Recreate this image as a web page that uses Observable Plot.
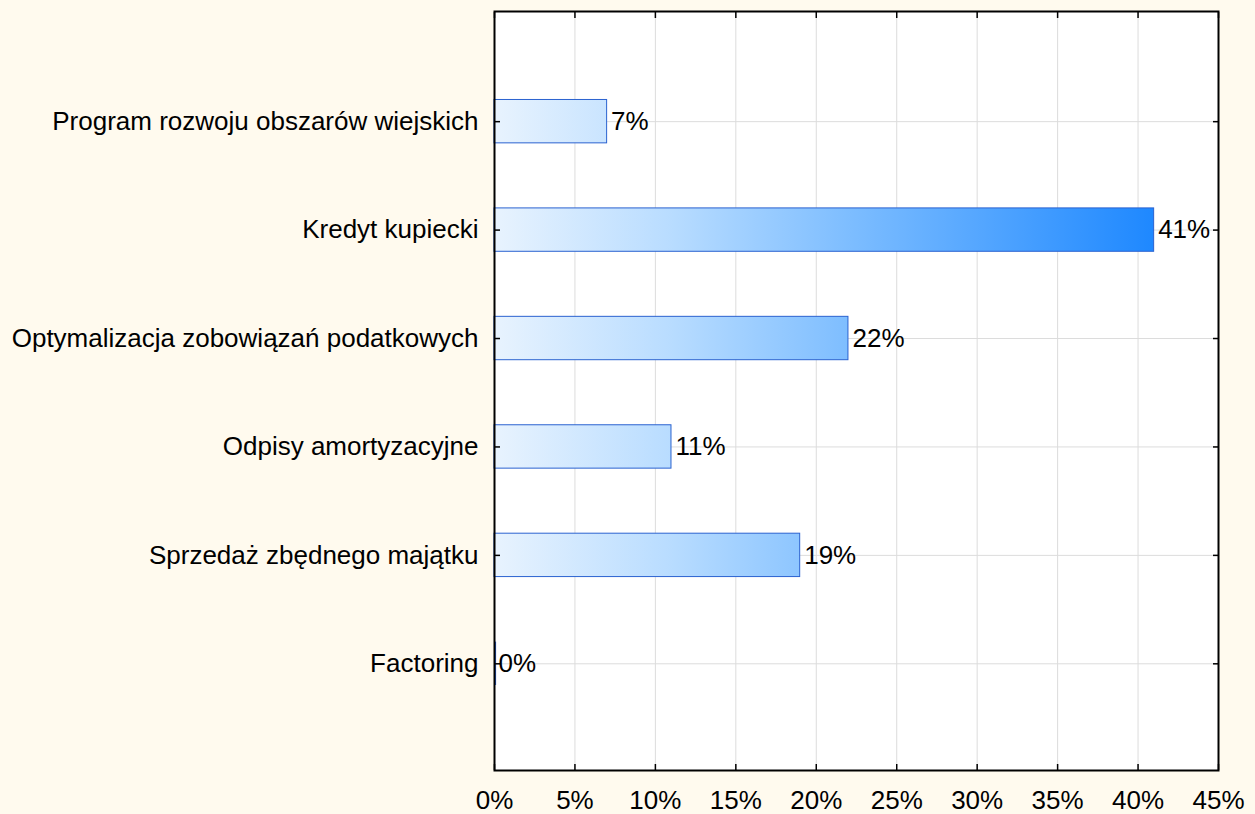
<!DOCTYPE html>
<html lang="pl">
<head>
<meta charset="utf-8">
<script src="https://cdn.jsdelivr.net/npm/d3@7"></script>
<script src="https://cdn.jsdelivr.net/npm/@observablehq/plot@0.6"></script>
<style>
  html, body { margin: 0; padding: 0; background: #fffaee; }
  #chart svg { display: block; }
</style>
</head>
<body>
<div id="chart"></div>
<script>
// Źródła finansowania — odsetek wskazań
const categories = [
  "Program rozwoju obszarów wiejskich",
  "Kredyt kupiecki",
  "Optymalizacja zobowiązań podatkowych",
  "Odpisy amortyzacyjne",
  "Sprzedaż zbędnego majątku",
  "Factoring"
];
const values = [7, 41, 22, 11, 19, 0];
const xTicks = [0, 5, 10, 15, 20, 25, 30, 35, 40, 45];

const data = categories.map((label, i) => ({label, value: values[i]}));

const font = "'Liberation Sans', Arial, sans-serif";
const pct = d => `${d}%`;
const barStroke = "#2a62d0";

const chart = Plot.plot({
  width: 1255,
  height: 814,
  marginLeft: 494,
  marginRight: 37,
  marginTop: 11,
  marginBottom: 44,
  style: {background: "transparent", fontFamily: font, fontSize: "26px", color: "#000"},
  x: {domain: [0, 45], ticks: xTicks, tickFormat: pct},
  y: {domain: categories, paddingInner: 0.6, paddingOuter: 0.8, align: 0.51, round: false},
  marks: [
    Plot.frame({fill: "white", stroke: "none"}),
    Plot.gridX(xTicks, {stroke: "#dcdcdc", strokeOpacity: 1}),
    Plot.gridY(categories, {stroke: "#dcdcdc", strokeOpacity: 1}),
    Plot.barX(data, {x1: 0, x2: "value", y: "label", fill: "url(#barGradient)", stroke: barStroke, strokeWidth: 1}),
    // a zero-length bar still shows as a thin outline at the axis
    Plot.tickX(data, {filter: d => d.value === 0, x: "value", y: "label", stroke: barStroke, strokeWidth: 1.2, dx: 1}),
    Plot.text(data, {x: "value", y: "label", text: d => pct(d.value), textAnchor: "start", dx: 4, fontSize: 26, fill: "#000"}),
    // tick marks pointing inward on all four sides
    Plot.axisX(xTicks, {anchor: "bottom", tickSize: 6, dy: -6, fill: "none", label: null, stroke: "#000", strokeWidth: 1.5}),
    Plot.axisX(xTicks, {anchor: "top", tickSize: 6, dy: 6, fill: "none", label: null, stroke: "#000", strokeWidth: 1.5}),
    Plot.axisY(categories, {anchor: "left", tickSize: 6, dx: 6, fill: "none", label: null, stroke: "#000", strokeWidth: 1.5}),
    Plot.axisY(categories, {anchor: "right", tickSize: 6, dx: -6, fill: "none", label: null, stroke: "#000", strokeWidth: 1.5}),
    // tick labels
    Plot.axisX(xTicks, {anchor: "bottom", tickSize: 0, tickPadding: 20, tickFormat: pct, label: null, fontSize: 26}),
    Plot.axisY(categories, {anchor: "left", tickSize: 0, tickPadding: 16, label: null, fontSize: 26}),
    Plot.frame({stroke: "#000", strokeWidth: 2})
  ]
});

// Horizontal gradient laid out along the x scale so that longer bars reach deeper blue
const x = chart.scale("x");
const svg = d3.select(chart.tagName === "svg" ? chart : chart.querySelector("svg"));
const grad = svg.insert("defs", ":first-child")
  .append("linearGradient")
  .attr("id", "barGradient")
  .attr("gradientUnits", "userSpaceOnUse")
  .attr("x1", x.apply(0)).attr("x2", x.apply(d3.max(values)))
  .attr("y1", 0).attr("y2", 0);
[[0, "#e8f3fe"], [0.27, "#b8dcff"], [0.54, "#7dbdff"], [1, "#1e88ff"]].forEach(([o, c]) =>
  grad.append("stop").attr("offset", o).attr("stop-color", c)
);

document.getElementById("chart").appendChild(chart);
</script>
</body>
</html>
